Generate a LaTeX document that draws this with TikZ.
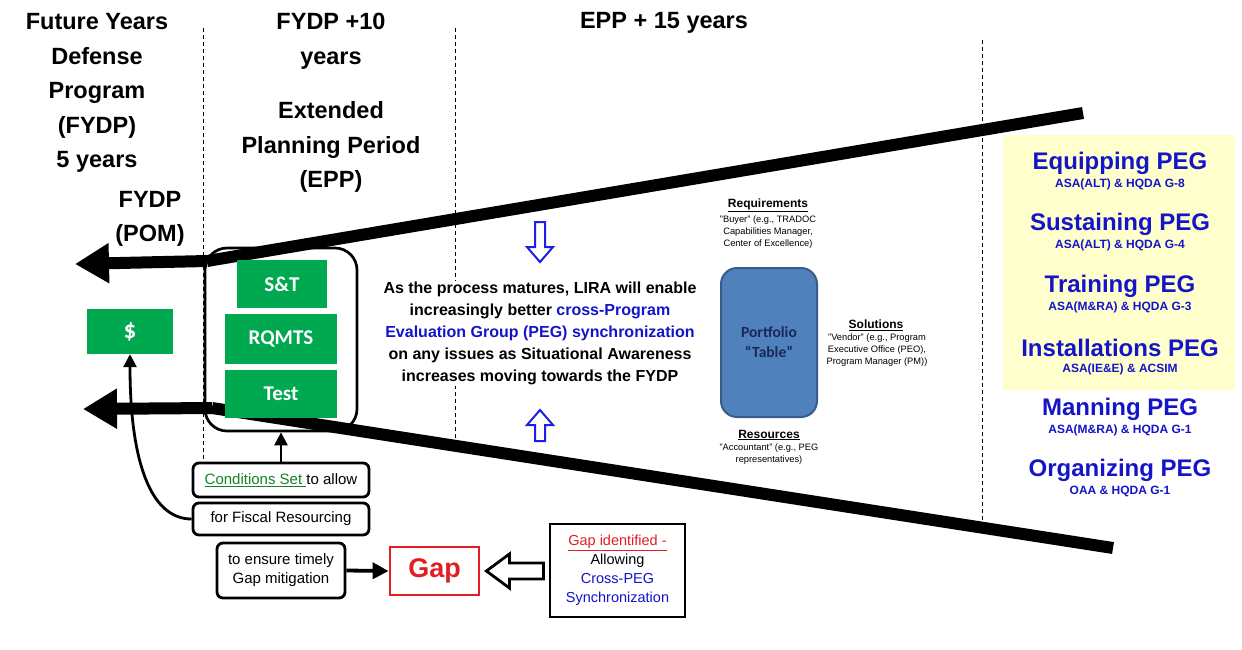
\documentclass[tikz,border=0pt]{standalone}
\usepackage{fontspec}
\setmainfont{Liberation Sans}
\newfontfamily\calfont{Carlito}
\usetikzlibrary{arrows.meta,calc}

\definecolor{boxgreen}{RGB}{0,168,80}
\definecolor{condgreen}{RGB}{20,130,40}
\definecolor{pegblue}{RGB}{20,20,200}
\definecolor{arrowblue}{RGB}{30,30,235}
\definecolor{gapred}{RGB}{225,30,35}
\definecolor{portfill}{RGB}{79,129,189}
\definecolor{portedge}{RGB}{56,93,138}
\definecolor{porttext}{RGB}{25,40,90}
\definecolor{pegyellow}{RGB}{255,255,206}

\newcommand\setfs[2]{\fontsize{#1}{#2}\selectfont}

\begin{document}
\begin{tikzpicture}[x=1pt,y=-1pt,
  hdr/.style={font=\bfseries\setfs{23.5}{34.5}, align=center, inner sep=0},
  divider/.style={dashed, dash pattern=on 4pt off 3pt, line width=1},
  heavyline/.style={line width=12},
  bigarrow/.style={line width=12, -{Triangle[length=34pt,width=38pt]}},
  greenbox/.style={fill=boxgreen, text=white, font=\calfont\bfseries\setfs{21}{24}, inner sep=0},
  notebox/.style={draw, line width=2.8, rounded corners=6, font=\setfs{15}{19}, align=center, inner sep=0},
  linkarrow/.style={line width=2.8, -{Triangle[length=13pt,width=13pt]}},
  hollowblue/.style={draw=arrowblue, line width=2, fill=white, line join=miter},
  hollowblack/.style={draw=black, line width=2.8, fill=white, line join=miter},
  rolehead/.style={font=\bfseries\setfs{12}{14}, inner sep=0},
  rolesub/.style={font=\setfs{9.3}{12}, align=center, inner sep=0},
  pegtitle/.style={text=pegblue, font=\bfseries\setfs{24}{26}, inner sep=0},
  pegsub/.style={text=pegblue, font=\bfseries\setfs{12}{14}, inner sep=0}
]
\useasboundingbox (0,0) rectangle (1242,649);
\fill[white] (0,0) rectangle (1242,649);

% period dividers
\draw[divider] (203,28) -- (203,462);
\draw[divider] (455,28) -- (455,440);
\draw[divider] (982,40) -- (982,522);

% period headings
\node[hdr] (hFydp) at (97,93) {Future Years\\Defense\\Program\\(FYDP)\\5 years};
\node[hdr] (hPom) at (150,219) {FYDP\\(POM)};
\node[hdr] (hTen) at (331,41) {FYDP +10\\years};
\node[hdr] (hEpp) at (331,147) {Extended\\Planning Period\\(EPP)};
\node[hdr] (hFifteen) at (664,23) {EPP + 15 years};

% PEG panel
\node[fill=pegyellow, minimum width=232, minimum height=255, inner sep=0] (pegPanel) at (1119,262.5) {};
\node[pegtitle] (eqT) at (1120,163) {Equipping PEG};
\node[pegsub]   (eqS) at (1120,184) {ASA(ALT) \& HQDA G-8};
\node[pegtitle] (suT) at (1120,224) {Sustaining PEG};
\node[pegsub]   (suS) at (1120,245) {ASA(ALT) \& HQDA G-4};
\node[pegtitle] (trT) at (1120,286) {Training PEG};
\node[pegsub]   (trS) at (1120,307) {ASA(M\&RA) \& HQDA G-3};
\node[pegtitle] (inT) at (1120,348) {Installations PEG};
\node[pegsub]   (inS) at (1120,369) {ASA(IE\&E) \& ACSIM};
\node[pegtitle] (maT) at (1120,409) {Manning PEG};
\node[pegsub]   (maS) at (1120,430) {ASA(M\&RA) \& HQDA G-1};
\node[pegtitle] (orT) at (1120,470) {Organizing PEG};
\node[pegsub]   (orS) at (1120,491) {OAA \& HQDA G-1};

% funnel
\coordinate (upperFar) at (1083,113);
\coordinate (upperNear) at (207,261);
\coordinate (upperTip) at (75,264);
\coordinate (lowerFar) at (1113,548);
\coordinate (lowerNear) at (212,408);
\coordinate (lowerTip) at (83,409);
\draw[heavyline] (upperFar) -- (upperNear);
\draw[bigarrow] (upperNear) -- (upperTip);
\draw[heavyline] (lowerFar) -- (lowerNear);
\draw[bigarrow] (lowerNear) -- (lowerTip);

% centre message
\node[fill=white, font=\bfseries\setfs{16}{22}, align=center, inner sep=1] (msg) at (540,333)
  {As the process matures, LIRA will enable\\
   increasingly better \textcolor{pegblue}{cross-Program}\\
   \textcolor{pegblue}{Evaluation Group (PEG) synchronization}\\
   on any issues as Situational Awareness\\
   increases moving towards the FYDP};
\draw[hollowblue] (540,262) -- ++(13,-15) -- ++(-8,0) -- ++(0,-25) -- ++(-10,0) -- ++(0,25) -- ++(-8,0) -- cycle;
\draw[hollowblue] (540,410) -- ++(13,15) -- ++(-8,0) -- ++(0,16) -- ++(-10,0) -- ++(0,-16) -- ++(-8,0) -- cycle;

% portfolio table
\node[fill=portfill, draw=portedge, line width=2, rounded corners=16, minimum width=96, minimum height=149,
      text=porttext, font=\calfont\bfseries\setfs{15.5}{20}, align=center, inner sep=0] (port) at (769,342.5)
  {Portfolio\\“Table”};
\node[rolehead] (reqH) at (768,205) {\underline{Requirements}};
\node[rolesub, anchor=north] (reqS) at (768,216) {"Buyer" (e.g., TRADOC\\Capabilities Manager,\\Center of Excellence)};
\node[rolehead] (solH) at (876,325) {\underline{Solutions}};
\node[rolesub, anchor=north] (solS) at (877,334) {"Vendor" (e.g., Program\\Executive Office (PEO),\\Program Manager (PM))};
\node[rolehead] (resH) at (769,435) {\underline{Resources}};
\node[rolesub, anchor=north] (resS) at (769,444) {"Accountant" (e.g., PEG\\representatives)};

% capability stack
\node[draw, line width=2.7, rounded corners=22, minimum width=152, minimum height=183, inner sep=0] (stack) at (281,339.5) {};
\node[greenbox, minimum width=90, minimum height=48] (st) at (282,284) {S\&T};
\node[greenbox, minimum width=112, minimum height=50] (rq) at (281,339) {RQMTS};
\node[greenbox, minimum width=112, minimum height=48] (test) at (281,394) {Test};
\node[greenbox, minimum width=86, minimum height=45, font=\calfont\bfseries\setfs{25}{26}] (dollar) at (130,331.5) {\$};

% conditions chain
\node[notebox, minimum width=176, minimum height=34] (cond) at (281,480)
  {{\color{condgreen}\underline{Conditions Set\ }}to allow};
\node[notebox, minimum width=176, minimum height=32] (fisc) at (281,519) {for Fiscal Resourcing};
\node[notebox, minimum width=128, minimum height=55] (ensure) at (281,570.5) {to ensure timely\\Gap mitigation};
\node[draw=gapred, line width=2.8, minimum width=89, minimum height=48, text=gapred,
      font=\bfseries\setfs{27}{30}, inner sep=0] (gap) at (434.5,571) {Gap};
\node[draw, line width=1.5, minimum width=135, minimum height=93, align=center,
      font=\setfs{14.5}{19}, inner sep=0] (ident) at (617.5,570.5)
  {\textcolor{gapred}{\underline{Gap identified -}}\\Allowing\\\textcolor{pegblue}{Cross-PEG}\\\textcolor{pegblue}{Synchronization}};

\draw[linkarrow] (cond.north) -- (stack.south);
\draw[linkarrow] (fisc.west) .. controls (150,519) and (130,460) .. (dollar.south);
\draw[line width=3.8, -{Triangle[length=16pt,width=16pt]}] (ensure.east) -- (gap.west);
\draw[hollowblack] ($(gap.east)+(6,0)$) -- ++(23,-17) -- ++(0,9) -- ++(34,0) -- ++(0,16) -- ++(-34,0) -- ++(0,9) -- cycle;
\end{tikzpicture}
\end{document}
